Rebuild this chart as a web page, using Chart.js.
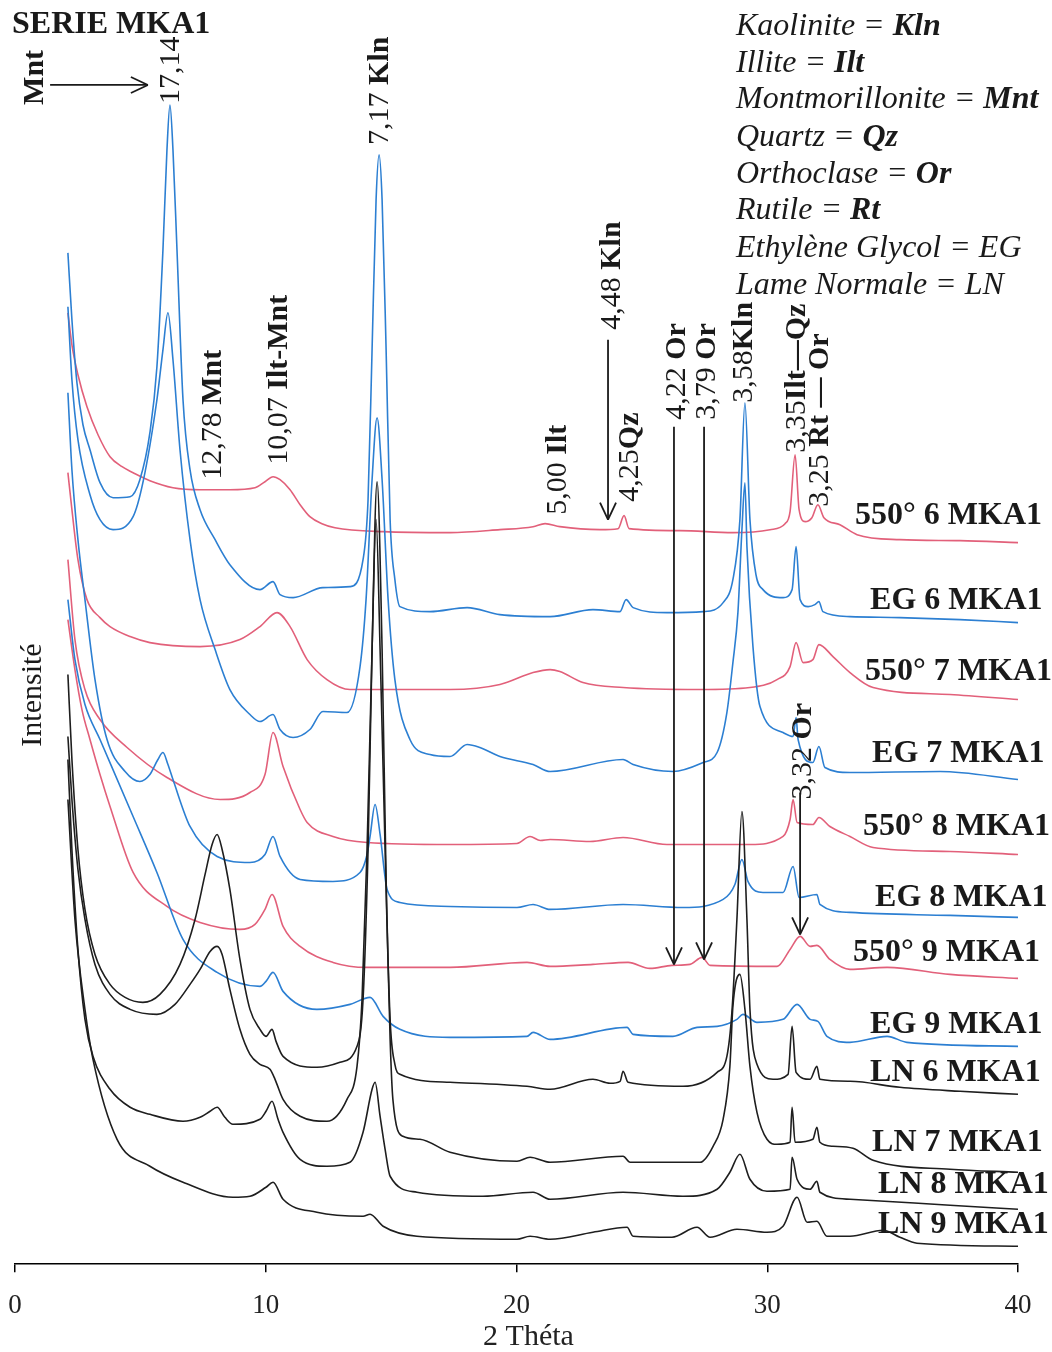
<!DOCTYPE html>
<html><head><meta charset="utf-8">
<script src="https://cdn.jsdelivr.net/npm/chart.js@4.4.1/dist/chart.umd.min.js"></script>
<style>html,body{margin:0;padding:0;background:#fff;}canvas{display:block;}</style>
</head><body>
<canvas id="c" width="1052" height="1352" style="width:1052px;height:1352px"></canvas>
<script>
// ---- data: [2θ (deg), intensity (a.u., offset stacked)] ----
const xTicks = [0, 10, 20, 30, 40];
const sampleNames = ['550° 6 MKA1','EG 6 MKA1','550° 7 MKA1','EG 7 MKA1','550° 8 MKA1','EG 8 MKA1','550° 9 MKA1','EG 9 MKA1','LN 6 MKA1','LN 7 MKA1','LN 8 MKA1','LN 9 MKA1'];

const s550_6 = [[2.11,952],[2.27,920],[2.51,890],[2.87,858],[3.31,830],[3.79,808],[4.27,798],[4.71,792],[5.38,784],[6.30,777],[7.38,775],[8.57,775],[9.57,777],[9.97,783],[10.29,788],[10.57,785],[10.97,775],[11.37,760],[11.76,748],[12.24,741],[12.76,737],[14.68,733],[17.35,732],[19.34,735],[20.66,738],[21.14,741],[21.73,738],[23.33,735],[24.05,736],[24.29,749],[24.49,736],[26.52,734],[28.63,732],[30.11,735],[30.71,741],[30.91,753],[31.11,810],[31.27,755],[31.51,743],[31.78,747],[32.02,760],[32.26,747],[32.90,740],[33.58,730],[35.29,725],[37.69,724],[40.00,722]];

const eg6 = [[2.11,1012],[2.27,945],[2.47,882],[2.71,840],[2.99,815],[3.39,782],[3.91,767],[4.59,768],[4.98,785],[5.38,832],[5.66,898],[5.90,1015],[6.06,1115],[6.18,1160],[6.30,1115],[6.46,1015],[6.70,865],[6.98,795],[7.38,755],[7.98,725],[8.57,700],[9.77,675],[10.29,683],[10.57,670],[11.09,667],[12.28,677],[13.36,678],[13.88,705],[14.08,765],[14.24,915],[14.40,1065],[14.52,1110],[14.64,1065],[14.80,915],[14.96,745],[15.15,685],[15.35,658],[16.55,653],[18.03,657],[19.34,650],[21.34,648],[23.05,655],[24.13,653],[24.37,665],[24.65,657],[26.00,652],[27.44,653],[28.24,662],[28.63,685],[28.91,745],[29.11,862],[29.31,745],[29.55,690],[29.83,675],[30.63,667],[30.99,675],[31.15,718],[31.31,665],[31.63,658],[31.90,660],[32.06,663],[32.22,653],[33.30,648],[35.29,647],[37.69,645],[40.00,642]];

const s550_7 = [[2.11,792],[2.27,755],[2.51,705],[2.87,665],[3.39,647],[3.79,638],[4.59,628],[5.38,622],[7.38,618],[8.97,625],[9.77,638],[10.45,652],[10.97,638],[11.65,605],[12.44,585],[13.36,575],[17.35,575],[19.34,580],[20.66,592],[21.34,595],[21.73,593],[22.65,582],[24.25,577],[27.32,575],[29.31,577],[30.39,585],[30.91,598],[31.15,622],[31.43,602],[31.82,605],[32.06,620],[32.62,608],[33.30,592],[34.22,577],[37.29,570],[40.00,565]];

const eg7 = [[2.11,958],[2.27,885],[2.51,825],[2.99,770],[3.39,745],[3.91,735],[4.71,748],[5.10,782],[5.66,865],[5.90,915],[6.10,952],[6.30,905],[6.58,815],[6.98,725],[7.38,665],[7.98,615],[8.57,575],[9.37,550],[9.77,543],[10.29,550],[10.57,535],[11.09,527],[11.76,535],[12.28,553],[13.24,552],[13.76,598],[14.00,665],[14.24,785],[14.44,847],[14.64,785],[14.88,665],[15.15,585],[15.75,525],[16.55,510],[17.35,508],[18.03,520],[18.54,517],[19.34,508],[20.66,500],[21.34,493],[24.25,505],[24.65,500],[26.24,493],[27.44,502],[28.00,512],[28.39,552],[28.63,602],[28.83,652],[28.99,735],[29.11,782],[29.19,718],[29.43,618],[29.71,558],[30.63,532],[31.03,528],[31.15,547],[31.23,525],[31.82,502],[32.06,518],[32.30,497],[33.30,492],[36.89,493],[40.00,485]];

const s550_8 = [[2.11,705],[2.39,625],[2.79,575],[3.39,545],[4.47,517],[6.06,487],[8.18,465],[9.37,472],[9.97,490],[10.29,532],[10.69,498],[11.37,455],[11.65,442],[12.68,428],[14.04,422],[17.35,420],[20.02,421],[20.54,428],[20.95,424],[21.34,425],[22.93,423],[24.25,427],[26.00,420],[29.31,420],[30.63,428],[30.91,445],[31.03,465],[31.19,442],[31.82,440],[32.06,447],[32.50,438],[33.30,428],[34.22,417],[37.29,413],[40.00,410]];

const eg8 = [[2.11,872],[2.27,795],[2.51,725],[2.79,665],[3.19,585],[3.67,525],[4.39,493],[4.98,483],[5.38,490],[5.70,505],[5.90,512],[6.10,500],[6.30,485],[6.98,438],[8.06,408],[9.37,402],[9.97,410],[10.29,428],[10.57,408],[11.37,385],[12.68,383],[13.76,392],[14.04,410],[14.16,428],[14.36,460],[14.56,430],[14.84,375],[15.35,362],[17.35,358],[20.02,357],[20.66,360],[21.34,355],[24.25,360],[26.64,357],[28.24,365],[28.71,380],[28.99,405],[29.23,383],[29.83,372],[30.63,372],[31.03,398],[31.27,367],[31.98,370],[32.10,360],[33.30,352],[37.29,349],[40.00,347]];

const s550_9 = [[2.11,645],[2.39,595],[2.67,555],[2.99,525],[3.39,490],[3.79,458],[4.71,392],[6.06,358],[7.38,342],[8.97,335],[9.57,340],[9.97,355],[10.25,370],[10.69,338],[11.37,318],[12.68,302],[14.04,297],[17.35,297],[20.42,302],[21.34,298],[23.05,300],[24.45,302],[25.32,296],[26.20,299],[26.92,300],[27.40,307],[27.72,299],[30.39,298],[30.91,315],[31.31,328],[31.71,318],[31.98,319],[32.50,305],[33.30,295],[34.78,297],[37.29,290],[40.00,286]];

const eg9 = [[2.11,665],[2.39,605],[2.79,560],[3.39,525],[4.71,448],[5.66,392],[6.70,325],[8.06,292],[9.77,278],[10.01,283],[10.29,292],[10.69,273],[12.04,255],[13.36,260],[14.16,267],[14.68,248],[15.35,235],[17.35,227],[20.42,228],[20.66,232],[21.34,225],[24.41,237],[24.65,230],[26.24,228],[27.20,237],[28.00,238],[28.79,245],[29.03,250],[29.59,242],[30.63,245],[31.19,260],[31.71,245],[32.02,243],[32.38,228],[33.30,222],[34.78,228],[35.57,222],[40.00,218]];

const ln6 = [[2.11,590],[2.27,505],[2.51,415],[2.79,355],[3.19,310],[3.79,280],[4.39,267],[5.10,262],[5.78,270],[6.58,300],[7.18,345],[7.58,390],[7.86,420],[8.06,430],[8.26,415],[8.57,375],[8.97,305],[9.37,255],[9.77,235],[10.01,228],[10.25,235],[10.41,223],[10.69,208],[12.04,197],[12.96,202],[13.64,218],[13.88,265],[14.08,415],[14.24,615],[14.44,783],[14.64,615],[14.80,385],[14.96,245],[15.15,200],[15.35,190],[17.35,182],[20.42,178],[21.34,175],[23.05,185],[23.73,181],[24.13,183],[24.25,193],[24.45,182],[26.64,178],[28.00,192],[28.39,208],[28.59,252],[28.79,345],[28.99,453],[29.19,345],[29.31,255],[29.59,200],[30.23,185],[30.83,190],[30.99,238],[31.15,192],[31.71,185],[31.98,198],[32.10,185],[33.30,183],[35.29,177],[37.69,173],[40.00,170]];

const ln7 = [[2.11,528],[2.27,465],[2.51,395],[2.79,345],[3.19,300],[3.79,270],[4.59,255],[5.66,250],[6.38,260],[6.98,280],[7.38,295],[7.78,313],[8.06,318],[8.26,310],[8.57,275],[8.97,235],[9.37,210],[9.77,200],[10.17,195],[10.37,185],[10.69,165],[11.37,148],[12.44,143],[13.24,165],[13.64,198],[13.84,265],[14.04,415],[14.24,615],[14.40,745],[14.56,615],[14.76,415],[14.96,225],[15.07,165],[15.47,128],[16.15,125],[17.35,112],[20.02,103],[20.54,107],[21.34,102],[24.25,108],[24.53,102],[27.32,102],[27.84,118],[28.24,145],[28.51,198],[28.63,258],[28.91,290],[29.11,255],[29.31,198],[29.59,152],[29.99,125],[30.39,120],[30.91,122],[30.99,157],[31.11,122],[31.82,125],[31.98,137],[32.10,122],[32.62,118],[33.42,116],[34.22,104],[37.29,95],[40.00,92]];

const ln8 = [[2.11,505],[2.27,415],[2.51,315],[2.79,245],[3.11,208],[3.79,175],[4.59,157],[5.38,150],[6.70,143],[7.38,147],[7.78,153],[8.06,157],[8.37,147],[8.69,140],[9.77,145],[10.01,153],[10.25,163],[10.49,145],[10.69,132],[11.37,105],[12.44,98],[13.36,102],[13.88,132],[14.24,175],[14.36,182],[14.56,148],[14.76,115],[14.96,88],[16.03,72],[18.66,68],[20.66,72],[21.34,65],[24.25,72],[26.64,68],[28.00,75],[28.51,92],[28.91,110],[29.31,85],[29.99,73],[30.91,75],[30.99,107],[31.19,85],[31.71,75],[31.98,83],[32.10,72],[33.30,65],[37.29,59],[40.00,55]];

const ln9 = [[2.11,465],[2.39,345],[2.79,255],[3.11,205],[4.07,125],[5.38,98],[6.70,82],[8.69,67],[9.37,68],[10.01,77],[10.29,82],[10.69,65],[12.04,52],[13.88,48],[14.16,50],[14.68,38],[16.03,28],[20.02,25],[20.54,28],[21.34,25],[23.05,32],[24.41,37],[24.65,28],[26.20,27],[27.20,37],[27.72,27],[28.79,35],[29.99,32],[30.63,38],[31.19,67],[31.59,42],[31.98,43],[32.38,28],[33.30,28],[34.62,34],[35.29,27],[35.97,21],[40.00,18]];

const seriesValues = [s550_6, eg6, s550_7, eg7, s550_8, eg8, s550_9, eg9, ln6, ln7, ln8, ln9];

// ---- styles ----
const RED = '#e2607a', BLUE = '#2c7fd2', BLACK = '#1e1e1e';
const seriesColors = [RED, BLUE, RED, BLUE, RED, BLUE, RED, BLUE, BLACK, BLACK, BLACK, BLACK];
const SERIF = '"Liberation Serif", "Times New Roman", serif';

const datasets = seriesValues.map((vals, i) => ({
  label: sampleNames[i],
  data: vals.map(p => ({x: p[0], y: p[1]})),
  borderColor: seriesColors[i],
  borderWidth: 1.6,
  pointRadius: 0,
  fill: false,
  cubicInterpolationMode: 'monotone',
  order: 12 - i
}));

// annotation plugin: titles, peak labels, arrows, legend text
const annot = {
  id: 'annot',
  afterDraw(chart) {
    const ctx = chart.ctx, X = chart.scales.x, Y = chart.scales.y;
    const px = v => X.getPixelForValue(v), py = v => Y.getPixelForValue(v);
    ctx.save();
    ctx.fillStyle = '#1a1a1a'; ctx.strokeStyle = '#1a1a1a';
    const fnt = (b, it, s) => `${it ? 'italic ' : ''}${b ? 'bold ' : ''}${s}px ${SERIF}`;
    function hparts(x, y, parts, size, italic) {
      ctx.textBaseline = 'middle'; ctx.textAlign = 'left';
      let cx = x;
      for (const [t, b] of parts) { ctx.font = fnt(b, italic, size); ctx.fillText(t, cx, y); cx += ctx.measureText(t).width; }
    }
    function vparts(x, y, parts, size) {
      ctx.save(); ctx.translate(x, y); ctx.rotate(-Math.PI / 2);
      hparts(0, 0, parts, size, false); ctx.restore();
    }
    function line(x1, y1, x2, y2, w) { ctx.lineWidth = w || 1.8; ctx.beginPath(); ctx.moveTo(x1, y1); ctx.lineTo(x2, y2); ctx.stroke(); }
    function headDown(x, y) { line(x - 8, y - 17, x, y); line(x + 8, y - 17, x, y); }
    function headRight(x, y) { line(x - 17, y - 8, x, y); line(x - 17, y + 8, x, y); }

    // title
    hparts(12, 25, [['SERIE MKA1', true]], 32, false);

    // legend (top right)
    const leg = [[['Kaolinite = ', false], ['Kln', true]], [['Illite = ', false], ['Ilt', true]], [['Montmorillonite = ', false], ['Mnt', true]], [['Quartz = ', false], ['Qz', true]], [['Orthoclase = ', false], ['Or', true]], [['Rutile = ', false], ['Rt', true]], [['Ethylène Glycol = EG', false]], [['Lame Normale = LN', false]]];
    const legY = [27, 64, 100, 138, 175, 211, 249, 286];
    leg.forEach((p, i) => hparts(736, legY[i], p, 32, true));

    // peak labels (rotated), anchored in data units: [2θ, intensity, parts]
    const peaks = [
      [0.80, 1160, [['Mnt', true]]],
      [6.22, 1161, [['17,14', false]]],
      [14.56, 1120, [['7,17 ', false], ['Kln', true]]],
      [7.90, 785, [['12,78 ', false], ['Mnt', true]]],
      [10.53, 800, [['10,07 ', false], ['Ilt-Mnt', true]]],
      [21.65, 750, [['5,00 ', false], ['Ilt', true]]],
      [23.81, 935, [['4,48 ', false], ['Kln', true]]],
      [24.53, 763, [['4,25', false], ['Qz', true]]],
      [26.40, 845, [['4,22 ', false], ['Or', true]]],
      [27.60, 845, [['3,79 ', false], ['Or', true]]],
      [29.07, 862, [['3,58', false], ['Kln', true]]],
      [31.19, 812, [['3,35', false], ['Ilt—Qz', true]]],
      [32.10, 758, [['3,25 ', false], ['Rt — Or', true]]],
      [31.43, 465, [['3,32 ', false], ['Or', true]]]
    ];
    peaks.forEach(([t, v, parts]) => vparts(px(t), py(v), parts, 30));

    // arrows
    line(px(1.40), py(1180), px(5.30), py(1180)); headRight(px(5.30), py(1180));
    line(px(23.65), py(925), px(23.65), py(745)); headDown(px(23.65), py(745));
    line(px(26.28), py(838), px(26.28), py(300)); headDown(px(26.28), py(300));
    line(px(27.48), py(838), px(27.48), py(305)); headDown(px(27.48), py(305));
    line(px(31.31), py(472), px(31.31), py(330)); headDown(px(31.31), py(330));

    // sample names at right
    const namePos = [[33.50, 749], [34.10, 664], [33.90, 593], [34.18, 511], [33.82, 438], [34.30, 367], [33.42, 312], [34.10, 240], [34.10, 192], [34.18, 122], [34.42, 80], [34.42, 39]];
    sampleNames.forEach((n, i) => hparts(px(namePos[i][0]), py(namePos[i][1]), [[n, true]], 32, false));

    // axis titles
    ctx.save(); ctx.translate(33, 695); ctx.rotate(-Math.PI / 2);
    ctx.font = `30px ${SERIF}`; ctx.textAlign = 'center'; ctx.textBaseline = 'middle';
    ctx.fillText('Intensité', 0, 0); ctx.restore();
    ctx.font = `30px ${SERIF}`; ctx.textAlign = 'center'; ctx.textBaseline = 'middle'; ctx.fillStyle = '#222';
    ctx.fillText('2 Théta', (X.left + X.right) / 2 + 12, 1337);
    ctx.restore();
  }
};

new Chart(document.getElementById('c'), {
  type: 'line',
  data: { datasets },
  options: {
    responsive: false, animation: false, devicePixelRatio: 1,
    layout: { padding: { left: 15, right: 34, top: 0, bottom: 13 } },
    plugins: { legend: { display: false }, tooltip: { enabled: false } },
    scales: {
      x: {
        type: 'linear', min: 0, max: 40,
        afterBuildTicks: ax => { ax.ticks = xTicks.map(v => ({ value: v })); },
        ticks: { color: '#222', font: { family: SERIF, size: 27, lineHeight: 2.4 }, padding: 1, maxRotation: 0 },
        grid: { drawOnChartArea: false, drawTicks: true, tickLength: 8, color: '#000', lineWidth: 1.5 },
        border: { display: true, color: '#000', width: 1.5 },
        title: { display: false }
      },
      y: { display: false, min: 0, max: 1265 }
    }
  },
  plugins: [annot]
});
</script>
</body></html>
